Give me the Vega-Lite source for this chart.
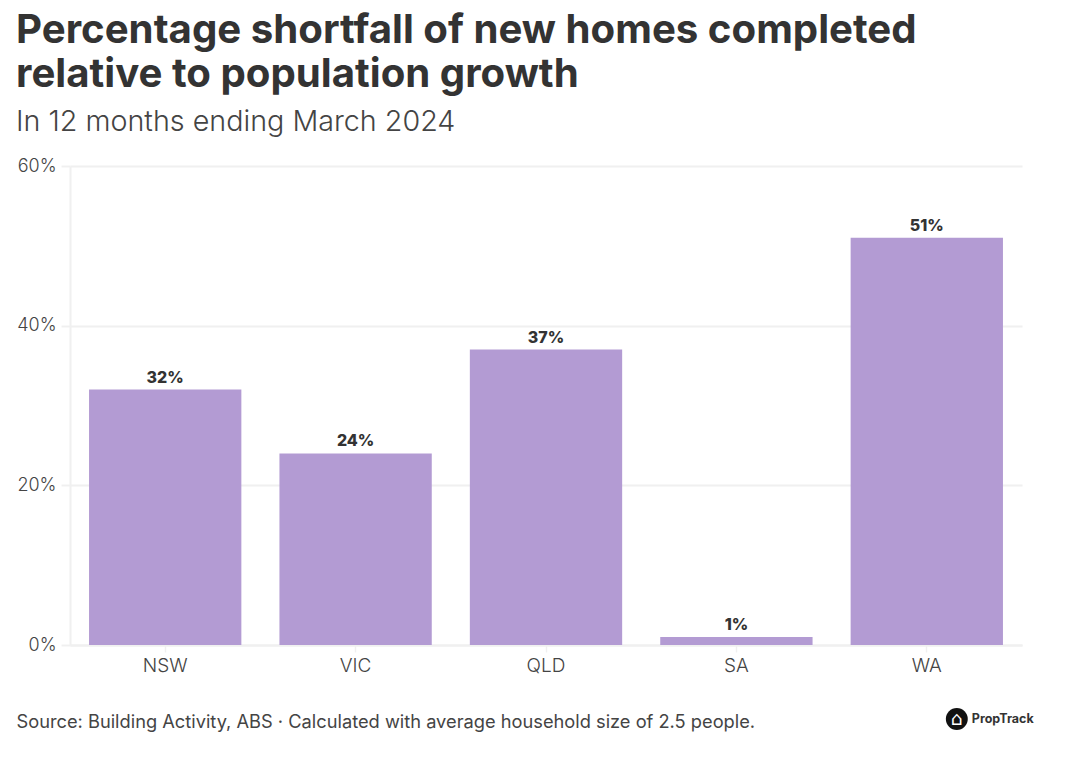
{"$schema":"https://vega.github.io/schema/vega-lite/v6.json","width":952,"height":479,"padding":{"left":70,"top":166,"right":46,"bottom":113},"autosize":"none","background":"white","data":{"values":[{"state":"NSW","pct":32,"label":"32%"},{"state":"VIC","pct":24,"label":"24%"},{"state":"QLD","pct":37,"label":"37%"},{"state":"SA","pct":1,"label":"1%"},{"state":"WA","pct":51,"label":"51%"}]},"config":{"view":{"stroke":null},"font":"Inter"},"title":{"text":["Percentage shortfall of new homes completed","relative to population growth"],"subtitle":"In 12 months ending March 2024","anchor":"start","frame":"group","offset":20,"dx":-54,"font":"Inter","fontSize":40.2,"fontWeight":700,"color":"#333333","lineHeight":44,"subtitleFont":"Inter","subtitleFontSize":28.7,"subtitleFontWeight":300,"subtitleColor":"#444444","subtitlePadding":13},"encoding":{"x":{"field":"state","type":"nominal","sort":null,"scale":{"paddingInner":0.2,"paddingOuter":0.1},"axis":{"title":"Source: Building Activity, ABS · Calculated with average household size of 2.5 people.","titleFont":"Inter","titleFontSize":18.25,"titleFontWeight":400,"titleColor":"#444444","titleAnchor":"start","titleAlign":"left","titleBaseline":"alphabetic","titleX":-54,"titleY":82,"labelAngle":0,"labelFont":"Inter","labelFontSize":19,"labelFontWeight":300,"labelColor":"#444444","labelPadding":4,"domain":true,"domainColor":"#f0f0f0","domainWidth":2,"tickColor":"#f0f0f0","tickSize":7,"tickWidth":1.5}},"y":{"field":"pct","type":"quantitative","scale":{"domain":[0,60]},"axis":{"title":null,"values":[0,20,40,60],"labelExpr":"datum.value + '%'","labelFont":"Inter","labelFontSize":18,"labelFontWeight":300,"labelColor":"#444444","labelPadding":5,"domain":true,"domainColor":"#f0f0f0","domainWidth":2,"tickSize":9,"tickColor":"#f0f0f0","tickWidth":2,"gridColor":"#f0f0f0","gridWidth":2}}},"layer":[{"mark":{"type":"bar","color":"#b39bd3"}},{"mark":{"type":"text","dy":-12,"font":"Inter","fontSize":16,"fontWeight":800,"color":"#333333"},"encoding":{"text":{"field":"label"}}},{"data":{"values":[{"state":"WA","pct":0,"brand":"PropTrack"}]},"mark":{"type":"circle","size":480,"opacity":1,"color":"#111111","xOffset":30,"yOffset":74},"encoding":{}},{"data":{"values":[{"state":"WA","pct":0,"brand":"⌂"}]},"mark":{"type":"text","font":"DejaVu Sans","fontSize":19,"color":"#ffffff","dx":30,"dy":74},"encoding":{"text":{"field":"brand"}}},{"data":{"values":[{"state":"WA","pct":0,"brand":"PropTrack"}]},"mark":{"type":"text","font":"Inter","fontSize":12.5,"fontWeight":700,"color":"#333333","align":"left","dx":45,"dy":74},"encoding":{"text":{"field":"brand"}}}]}
